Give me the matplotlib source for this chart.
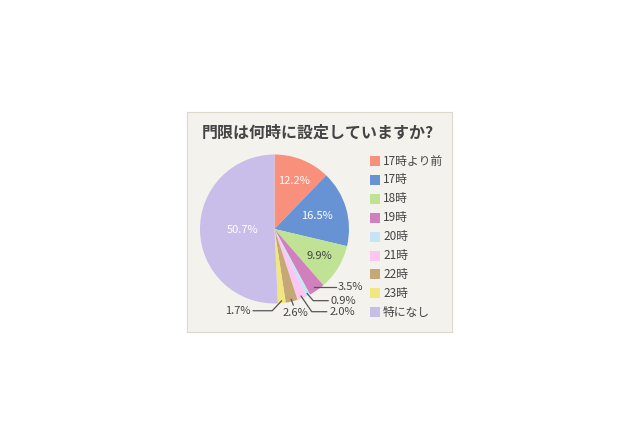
import matplotlib
matplotlib.use("Agg")
import matplotlib.pyplot as plt
import matplotlib.patches as mpatches
import numpy as np

plt.rcParams['font.family'] = ['Noto Sans CJK JP', 'DejaVu Sans']

TITLE = "門限は何時に設定していますか?"
categories = ["17時より前", "17時", "18時", "19時", "20時", "21時", "22時", "23時", "特になし"]
values = [12.2, 16.5, 9.9, 3.5, 0.9, 2.0, 2.6, 1.7, 50.7]
colors = ["#f8907c", "#6793d5", "#bfe294", "#cf80bd", "#c5e5f7",
          "#fcc6f0", "#c6a876", "#f2e681", "#c9bdea"]

W, H = 640, 437
fig = plt.figure(figsize=(W / 100, H / 100), dpi=100)
fig.patch.set_facecolor("white")

# panel behind everything
panel = fig.add_axes([187 / W, 1 - 332 / H, 265 / W, 220 / H])
panel.set_xticks([])
panel.set_yticks([])
panel.set_facecolor("#f4f2ec")
for s in panel.spines.values():
    s.set_color("#dcd8cc")
    s.set_linewidth(0.8)

fig.text(318 / W, 1 - 133 / H, TITLE, ha="center", va="center",
         fontsize=11.5, fontweight="bold", color="#444444")

# pie, centre (274.5, 229) px, radius 74.5 px
cx, cy, r = 274.5, 229, 74.5
ax = fig.add_axes([(cx - r) / W, 1 - (cy + r) / H, 2 * r / W, 2 * r / H])
wedges, _ = ax.pie(values, colors=colors, startangle=90, counterclock=False,
                   radius=1, wedgeprops=dict(linewidth=0))
ax.set_xlim(-1, 1)
ax.set_ylim(-1, 1)
ax.set_aspect("equal")
ax.axis("off")

cum = np.cumsum([0] + values[:-1])
mid = np.radians((cum + np.array(values) / 2) / 100 * 360)  # clockwise from top

# labels inside: index -> (radius, colour)
inside = {0: (0.70, "white"), 1: (0.60, "white"), 2: (0.70, "#444444"), 8: (0.43, "white")}
for i, (rad, col) in inside.items():
    ax.text(rad * np.sin(mid[i]), rad * np.cos(mid[i]), "%.1f%%" % values[i],
            ha="center", va="center", fontsize=8, color=col)

# leader labels: index -> (elbow, line end, text pos, ha)
leaders = {
    3: (None, (0.83, -0.774), (0.85, -0.774), "left"),
    4: ((0.52, -0.962), (0.72, -0.962), (0.745, -0.962), "left"),
    5: ((0.50, -1.11), (0.70, -1.11), (0.745, -1.11), "left"),
    6: (None, (0.252, -1.02), (0.275, -1.125), "center"),
    7: ((-0.03, -1.097), (-0.285, -1.097), (-0.32, -1.097), "right"),
}
for i, (elbow, end, tpos, ha) in leaders.items():
    ax0 = 0.97 * np.sin(mid[i])
    ay0 = 0.97 * np.cos(mid[i])
    if i == 3:
        ay0 = end[1]
        ax0 = ay0 * np.tan(mid[i])
    xs = [ax0] + ([elbow[0]] if elbow else []) + [end[0]]
    ys = [ay0] + ([elbow[1]] if elbow else []) + [end[1]]
    ax.plot(xs, ys, color="#555555", linewidth=0.9, clip_on=False)
    ax.text(tpos[0], tpos[1], "%.1f%%" % values[i], ha=ha, va="center",
            fontsize=8, color="#444444", clip_on=False)

# legend
for k, (name, col) in enumerate(zip(categories, colors)):
    y = 161 + k * 18.9
    fig.patches.append(mpatches.Rectangle((370 / W, 1 - (y + 5) / H), 10 / W, 10 / H,
                                          transform=fig.transFigure, facecolor=col,
                                          edgecolor="none"))
    fig.text(383 / W, 1 - y / H, name, ha="left", va="center",
             fontsize=8.5, color="#444444")

fig.savefig("out.png", dpi=100, facecolor="white")
